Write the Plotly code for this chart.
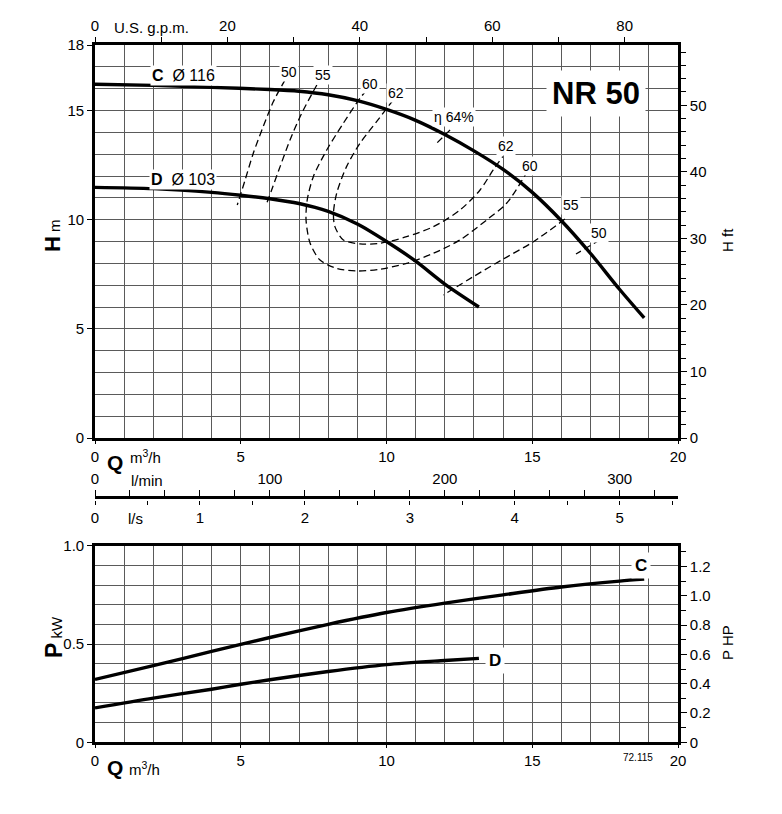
import plotly.graph_objects as go

# ---------------- data ----------------
# H-Q curves, Q in m3/h, H in m
Q_C = [0, 2, 4, 6, 7, 8, 9, 10, 11, 12, 13, 14, 15, 16, 17, 18, 18.84]
H_C = [16.2, 16.15, 16.06, 15.96, 15.88, 15.72, 15.45, 15.05, 14.55, 13.9, 13.15, 12.3, 11.25, 9.95, 8.45, 6.8, 5.5]
Q_D = [0, 2, 4, 5, 6, 7, 8, 9, 10, 11, 12, 13.17]
H_D = [11.48, 11.42, 11.25, 11.12, 10.96, 10.74, 10.38, 9.8, 9.0, 8.1, 7.05, 6.0]

# iso-efficiency lines
ETA50L_Q = [6.52, 6.12, 5.77, 5.43, 5.15, 4.88]
ETA50L_H = [16.40, 15.41, 14.26, 13.04, 11.82, 10.67]
ETA55L_Q = [7.61, 7.09, 6.69, 6.35, 6.06, 5.87]
ETA55L_H = [16.17, 14.87, 13.65, 12.43, 11.36, 10.67]
ETA60_Q = [9.32, 9.09, 8.52, 7.95, 7.49, 7.28, 7.24, 7.38, 7.72, 8.29, 8.98, 9.78, 10.69, 11.61, 12.52, 13.44, 14.12, 14.78]
ETA60_H = [15.94, 15.56, 14.42, 13.19, 11.97, 10.90, 9.99, 8.92, 8.15, 7.77, 7.65, 7.73, 8.00, 8.46, 9.07, 9.99, 10.75, 12.09]
ETA62_Q = [10.23, 9.66, 9.09, 8.63, 8.29, 8.18, 8.23, 8.52, 9.09, 9.78, 10.69, 11.61, 12.52, 13.21, 13.66, 13.99]
ETA62_H = [15.48, 14.49, 13.50, 12.43, 11.21, 10.29, 9.68, 9.07, 8.89, 8.92, 9.22, 9.68, 10.44, 11.36, 12.28, 12.89]
ETA64_Q = [12.18, 11.66]
ETA64_H = [14.11, 13.42]
ETA55R_Q = [16.12, 15.04, 14.01, 12.98, 11.95]
ETA55R_H = [10.03, 8.99, 8.20, 7.39, 6.55]
ETA50R_Q = [17.32, 16.50]
ETA50R_H = [9.07, 8.43]

# power curves, P in kW
Q_PC = [0, 2, 4, 6, 8, 10, 12, 14, 16, 18, 18.84]
P_C = [0.32, 0.39, 0.462, 0.533, 0.60, 0.66, 0.708, 0.75, 0.79, 0.82, 0.83]
Q_PD = [0, 2, 4, 5, 6, 8, 10, 12, 13.17]
P_D = [0.175, 0.225, 0.27, 0.295, 0.318, 0.36, 0.395, 0.416, 0.427]

# axis ticks
Q_TICKS = [0, 5, 10, 15, 20]
H_TICKS = [0, 5, 10, 15, 18]
HFT_TICKS = [0, 10, 20, 30, 40, 50]
GPM_TICKS = [0, 20, 40, 60, 80]
LMIN_TICKS = [0, 100, 200, 300]
LS_TICKS = [0, 1, 2, 3, 4, 5]
P_TICKS = [0, 0.5, 1.0]
P_TICK_TEXT = ["0", "0.5", "1.0"]
HP_TICKS = [0, 0.2, 0.4, 0.6, 0.8, 1.0, 1.2]
HP_TICK_TEXT = ["0", "0.2", "0.4", "0.6", "0.8", "1.0", "1.2"]

# unit conversions
M3H_PER_GPM = 0.227125
M_PER_FT = 0.3048
KW_PER_HP = 0.7457
M3H_PER_LMIN = 0.06
M3H_PER_LS = 3.6
Q_MAX = 20
H_MAX = 18
P_MAX = 1.0

# ---------------- layout helpers ----------------
W, HH = 782, 814
OFF = 8  # page body margin of the browser
def fx(p):
    return (p - OFF) / W
def fy(p):
    return 1 - (p - OFF) / HH

FONT = "Liberation Sans, Arial, sans-serif"
TF = dict(family=FONT, size=15, color="black")
GRID = "#5a5a5a"
BLACK = "black"

fig = go.Figure()

def curve(x, y, xa="x", ya="y", width=3.4, dash=None, spline=True):
    fig.add_trace(go.Scatter(
        x=x, y=y, xaxis=xa, yaxis=ya, mode="lines",
        line=dict(color=BLACK, width=width, dash=dash,
                  shape="spline" if spline else "linear", smoothing=0.8),
        hoverinfo="skip", showlegend=False))

def dummy(xa, ya):
    fig.add_trace(go.Scatter(x=[0], y=[0], xaxis=xa, yaxis=ya, mode="markers",
                             marker=dict(opacity=0), hoverinfo="skip", showlegend=False))

DASH = "7px,4px"
# efficiency lines
for qq, hh in [(ETA50L_Q, ETA50L_H), (ETA55L_Q, ETA55L_H), (ETA60_Q, ETA60_H),
               (ETA62_Q, ETA62_H), (ETA64_Q, ETA64_H), (ETA55R_Q, ETA55R_H),
               (ETA50R_Q, ETA50R_H)]:
    curve(qq, hh, width=1.3, dash=DASH)
# H-Q curves
curve(Q_C, H_C)
curve(Q_D, H_D)
# power curves
curve(Q_PC, P_C, xa="x3", ya="y3")
curve(Q_PD, P_D, xa="x3", ya="y3")

dummy("x2", "y")
dummy("x", "y2")
dummy("x3", "y4")
dummy("x4", "y5")
dummy("x5", "y5")

XDOM = [fx(95), fx(678)]
TOP_DOM = [fy(438), fy(45)]
BOT_DOM = [fy(742.3), fy(545.7)]
MID_DOM = [fy(499.5), fy(498.5)]

def base_axis(**kw):
    d = dict(showline=True, linewidth=2.6, linecolor=BLACK, zeroline=False,
             ticks="outside", ticklen=5, tickwidth=1.3, tickcolor=BLACK,
             tickfont=TF, showgrid=False, fixedrange=True, automargin=False)
    d.update(kw)
    return d

grid_minor = lambda dt: dict(tickmode="linear", tick0=0, dtick=dt, showgrid=True,
                             gridcolor=GRID, gridwidth=1, ticks="")

fig.update_layout(
    template="none",
    width=W, height=HH,
    margin=dict(l=0, r=0, t=0, b=0, pad=0, autoexpand=False),
    paper_bgcolor="white", plot_bgcolor="white",
    showlegend=False, hovermode=False,
    font=dict(family=FONT, color=BLACK),
    # ---- top chart ----
    xaxis=base_axis(domain=XDOM, range=[0, Q_MAX], anchor="y",
                    tickmode="array", tickvals=Q_TICKS, ticklen=3,
                    showgrid=True, gridcolor=GRID, gridwidth=1,
                    minor=grid_minor(1)),
    xaxis2=base_axis(overlaying="x", side="top", anchor="y",
                     range=[0, Q_MAX / M3H_PER_GPM],
                     tickmode="array", tickvals=GPM_TICKS,
                     minor=dict(tickmode="linear", tick0=0, dtick=10, ticks="outside",
                                ticklen=5, tickwidth=1.3, tickcolor=BLACK)),
    yaxis=base_axis(domain=TOP_DOM, range=[0, H_MAX], anchor="x",
                    tickmode="array", tickvals=H_TICKS,
                    showgrid=True, gridcolor=GRID, gridwidth=1,
                    minor=grid_minor(1)),
    yaxis2=base_axis(overlaying="y", side="right", anchor="x",
                     range=[0, H_MAX / M_PER_FT],
                     tickmode="array", tickvals=HFT_TICKS, ticklen=6,
                     minor=dict(tickmode="linear", tick0=0, dtick=2, ticks="outside",
                                ticklen=5, tickwidth=1.2, tickcolor=BLACK)),
    # ---- bottom chart ----
    xaxis3=base_axis(domain=XDOM, range=[0, Q_MAX], anchor="y3",
                     tickmode="array", tickvals=Q_TICKS, ticklen=3,
                     showgrid=True, gridcolor=GRID, gridwidth=1,
                     mirror=True, minor=grid_minor(1)),
    yaxis3=base_axis(domain=BOT_DOM, range=[0, P_MAX], anchor="x3",
                     tickmode="array", tickvals=P_TICKS, ticktext=P_TICK_TEXT,
                     showgrid=True, gridcolor=GRID, gridwidth=1,
                     minor=grid_minor(0.1)),
    yaxis4=base_axis(overlaying="y3", side="right", anchor="x3",
                     range=[0, P_MAX / KW_PER_HP],
                     tickmode="array", tickvals=HP_TICKS, ticktext=HP_TICK_TEXT, ticklen=6,
                     minor=dict(tickmode="linear", tick0=0, dtick=0.1, ticks="outside",
                                ticklen=5, tickwidth=1.2, tickcolor=BLACK)),
    # ---- flow scales l/min and l/s ----
    xaxis4=base_axis(domain=XDOM, anchor="y5", side="top",
                     range=[0, Q_MAX / M3H_PER_LMIN],
                     tickmode="array", tickvals=LMIN_TICKS, ticklen=6,
                     minor=dict(tickmode="linear", tick0=0, dtick=20, ticks="outside",
                                ticklen=6, tickwidth=1.2, tickcolor=BLACK)),
    xaxis5=base_axis(overlaying="x4", anchor="y5", side="bottom", showline=False,
                     range=[0, Q_MAX / M3H_PER_LS],
                     tickmode="array", tickvals=LS_TICKS, ticklen=4,
                     minor=dict(tickmode="linear", tick0=0, dtick=0.5, ticks="outside",
                                ticklen=4, tickwidth=1.2, tickcolor=BLACK)),
    yaxis5=dict(domain=MID_DOM, anchor="x4", visible=False, range=[0, 1], fixedrange=True),
)

ann = []
def label(text, x, y, size=14, xref="x", yref="y", bg="white", angle=0, **kw):
    a = dict(text=text, x=x, y=y, xref=xref, yref=yref, showarrow=False,
             xanchor="center", yanchor="middle",
             font=dict(family=FONT, size=size, color=BLACK), textangle=angle,
             bgcolor=bg, borderpad=1)
    a.update(kw)
    ann.append(a)

# curve labels
label("<b>C</b>  Ø 116", 3.02, 16.58, size=16)
label("<b>D</b>  Ø 103", 3.02, 11.86, size=16)
label("50", 6.66, 16.77)
label("55", 7.82, 16.63)
label("60", 9.43, 16.22)
label("62", 10.33, 15.82)
label("η 64%", 12.3, 14.70)
label("62", 14.10, 13.38)
label("60", 14.92, 12.46)
label("55", 16.33, 10.67)
label("50", 17.29, 9.39)
label("<b>NR 50</b>", 17.2, 15.79,
      font=dict(family=FONT, size=31, color=BLACK), borderpad=5)
label("<b>C</b>", 18.73, 0.897, size=17, xref="x3", yref="y3", borderpad=3)
label("<b>D</b>", 13.72, 0.414, size=17, xref="x3", yref="y3", borderpad=3)

# axis titles
PX = dict(xref="paper", yref="paper", bg="rgba(0,0,0,0)")
label("<span style='font-size:22px'><b>H</b></span> m", fx(52), fy(236), size=15, angle=-90, **PX)
label("H ft", fx(727), fy(240), size=15, angle=-90, **PX)
label("<span style='font-size:23px'><b>P</b></span> kW", fx(54), fy(637), size=15, angle=-90, **PX)
label("P HP", fx(727), fy(643), size=15, angle=-90, **PX)
label("<b>Q</b>", fx(115), fy(462), size=21, **PX)
label("m<sup>3</sup>/h", fx(145), fy(456), size=15, **PX)
label("<b>Q</b>", fx(115), fy(767), size=21, **PX)
label("m<sup>3</sup>/h", fx(144), fy(768), size=15, **PX)
label("U.S. g.p.m.", fx(151), fy(28), size=15, **PX)
label("l/min", fx(147), fy(480), size=15, **PX)
label("l/s", fx(135), fy(519), size=15, **PX)
label("72.115", fx(638), fy(757), size=10, **PX)

fig.update_layout(annotations=ann)
fig.write_html("out.html")
